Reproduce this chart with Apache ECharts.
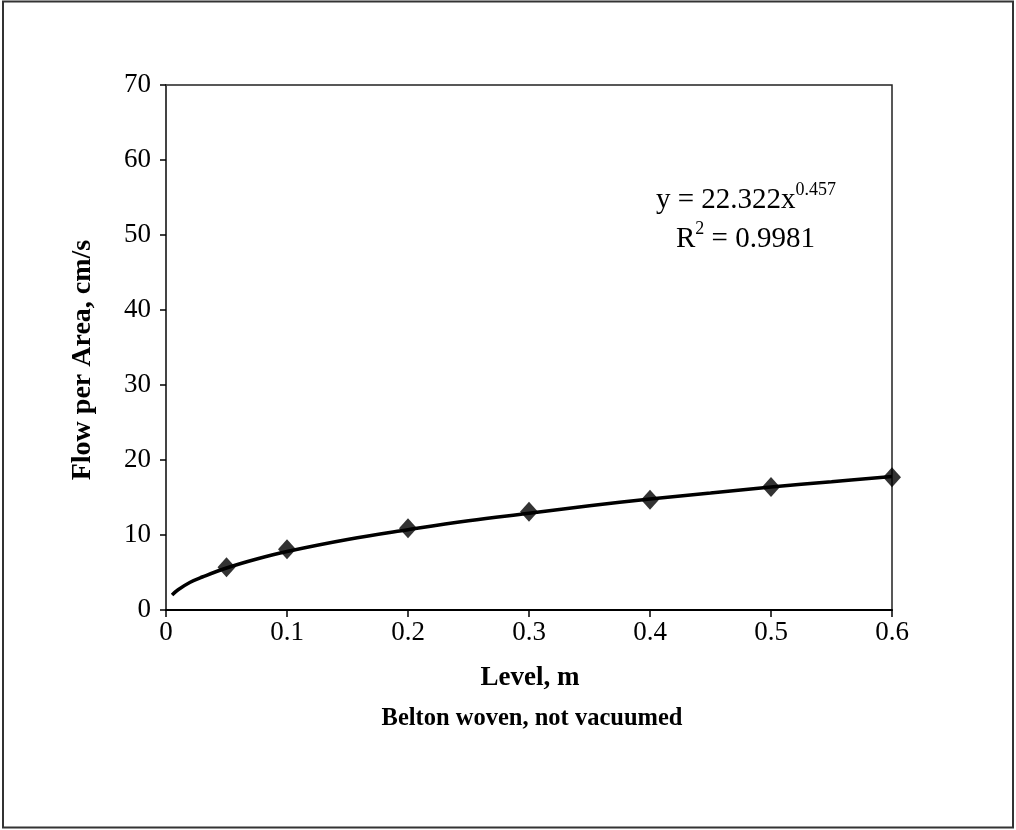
<!DOCTYPE html>
<html>
<head>
<meta charset="utf-8">
<script src="https://cdn.jsdelivr.net/npm/echarts@6/dist/echarts.min.js"></script>
<style>
html,body{margin:0;padding:0;background:#fff;}
#chart{width:1016px;height:830px;}
</style>
</head>
<body>
<div id="chart"></div>
<script>
// Measured data points (Level, m -> Flow per Area)
const levels = [0.05, 0.1, 0.2, 0.3, 0.4, 0.5, 0.6];
const flows = [5.7, 8.1, 10.9, 13.1, 14.7, 16.4, 17.7];
// Trendline
const trendX = [0.005, 0.01, 0.02, 0.03, 0.05, 0.075, 0.1, 0.15, 0.2, 0.25, 0.3, 0.35, 0.4, 0.45, 0.5, 0.55, 0.6];
const trendY = [2.0, 2.7, 3.7, 4.4, 5.6, 6.8, 7.8, 9.4, 10.7, 11.9, 12.9, 13.9, 14.8, 15.6, 16.4, 17.1, 17.8];
const xTicks = ['0', '0.1', '0.2', '0.3', '0.4', '0.5', '0.6'];
const yTicks = ['0', '10', '20', '30', '40', '50', '60', '70'];
const xTitle = 'Level, m';
const yTitle = 'Flow per Area, cm/s';
const caption = 'Belton woven, not vacuumed';
const eqLine = 'y = 22.322x';
const eqExp = '0.457';
const r2Value = ' = 0.9981';

const font = 'Liberation Serif';
const chart = echarts.init(document.getElementById('chart'));
const pts = levels.map((x, i) => [x, flows[i]]);
const trend = trendX.map((x, i) => [x, trendY[i]]);

const baseX = {type: 'value', min: 0, max: 0.6, interval: 0.1, splitLine: {show: false}};
const baseY = {type: 'value', min: 0, max: 70, interval: 10, splitLine: {show: false}};
const tickStyle = {color: '#000', width: 1.5};

chart.setOption({
  animation: false,
  backgroundColor: '#fff',
  grid: {left: 166, right: 124, top: 85, bottom: 220, containLabel: false,
    show: true, borderColor: '#222', borderWidth: 1.5, backgroundColor: 'transparent'},
  xAxis: [
    Object.assign({}, baseX, {
      position: 'bottom',
      axisLine: {show: true, onZero: false, lineStyle: {color: '#000', width: 2}},
      axisTick: {show: true, length: 7, lineStyle: tickStyle},
      axisLabel: {margin: 9, fontFamily: font, fontSize: 27, color: '#000',
        formatter: (v) => xTicks[Math.round(v * 10)]}
    })
  ],
  yAxis: [
    Object.assign({}, baseY, {
      position: 'left',
      axisLine: {show: true, onZero: false, lineStyle: {color: '#444', width: 2}},
      axisTick: {show: true, length: 6, lineStyle: tickStyle},
      axisLabel: {margin: 15, fontFamily: font, fontSize: 27, color: '#000',
        formatter: (v) => yTicks[Math.round(v / 10)]}
    })
  ],
  series: [
    {
      type: 'line', data: trend, smooth: 0.4, symbol: 'none',
      lineStyle: {color: '#000', width: 3.5}, z: 3
    },
    {
      type: 'scatter', data: pts, symbol: 'diamond', symbolSize: [18, 20],
      itemStyle: {color: '#000'}, z: 4, clip: false
    }
  ],
  graphic: [
    {type: 'rect', shape: {x: 3, y: 1.5, width: 1010, height: 826},
     style: {fill: 'none', stroke: '#333', lineWidth: 2}, silent: true},
    {type: 'text', x: 83, y: 360, rotation: Math.PI / 2,
     style: {text: yTitle, fontFamily: font, fontSize: 28, fontWeight: 'bold', fill: '#000',
       align: 'center', verticalAlign: 'middle'}},
    {type: 'text', x: 530, y: 678,
     style: {text: xTitle, fontFamily: font, fontSize: 27, fontWeight: 'bold', fill: '#000',
       align: 'center', verticalAlign: 'middle'}},
    {type: 'text', x: 532, y: 719,
     style: {text: caption, fontFamily: font, fontSize: 24.5, fontWeight: 'bold', fill: '#000',
       align: 'center', verticalAlign: 'middle'}},
    {type: 'text', x: 656, y: 181,
     style: {
       text: '{b|' + eqLine + '}{s|' + eqExp + '}',
       rich: {
         b: {fontFamily: font, fontSize: 29, color: '#000'},
         s: {fontFamily: font, fontSize: 18, color: '#000', padding: [0, 0, 20, 0]}
       }
     }},
    {type: 'text', x: 676, y: 220,
     style: {
       text: '{b|R}{s|2}{b|' + r2Value + '}',
       rich: {
         b: {fontFamily: font, fontSize: 29, color: '#000'},
         s: {fontFamily: font, fontSize: 18, color: '#000', padding: [0, 0, 20, 0]}
       }
     }}
  ]
});
</script>
</body>
</html>
